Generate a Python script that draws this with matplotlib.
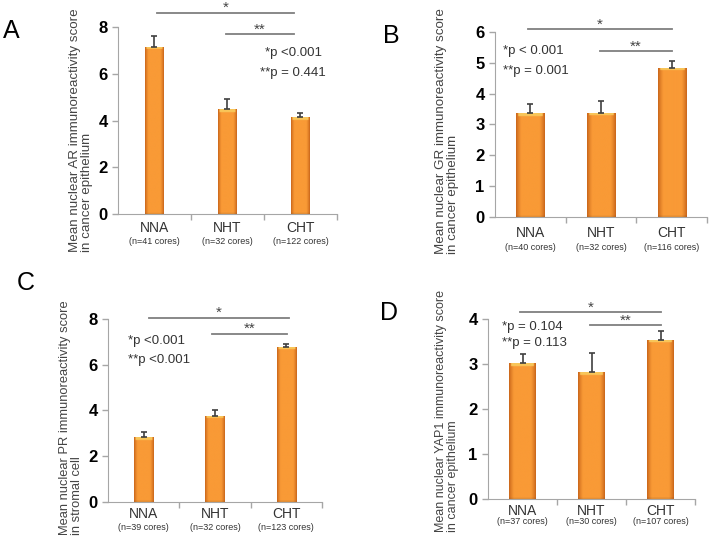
"""Mean nuclear immunoreactivity scores, four panels."""

import matplotlib
matplotlib.use("Agg")
import matplotlib.pyplot as plt
import numpy as np
from matplotlib.colors import to_rgb

plt.rcParams['font.family'] = ['Liberation Sans', 'DejaVu Sans']

groups = ['NNA', 'NHT', 'CHT']

a_cores = [41, 32, 122]
a_mean = [7.15, 4.49, 4.13]
a_err = [0.45, 0.41, 0.17]
a_pvals = ['*p <0.001', '**p = 0.441']

b_cores = [40, 32, 116]
b_mean = [3.36, 3.37, 4.84]
b_err = [0.29, 0.40, 0.22]
b_pvals = ['*p < 0.001', '**p = 0.001']

c_cores = [39, 32, 123]
c_mean = [2.83, 3.77, 6.78]
c_err = [0.22, 0.23, 0.12]
c_pvals = ['*p <0.001', '**p <0.001']

d_cores = [37, 30, 107]
d_mean = [3.02, 2.82, 3.54]
d_err = [0.20, 0.43, 0.19]
d_pvals = ['*p = 0.104', '**p = 0.113']

EDGE = np.array(to_rgb('#C9651A'))
MID = np.array(to_rgb('#F99A36'))
TOP = np.array(to_rgb('#F8C65A'))
AXCOL = '#A6A6A6'
LINECOL = '#7F7F7F'
TXT = '#333333'

fig = plt.figure(figsize=(7.09, 5.38), dpi=100)
FIG_H = 538


def gradient_bars(ax, vals, width, ytop):
    """bars with a beveled orange look"""
    bars = ax.bar(range(len(vals)), vals, width, color='#F7922A',
                  edgecolor='none', zorder=2)
    ax_h = ax.get_position().height * FIG_H
    px_unit = ax_h / ytop
    t = np.linspace(0, 1, 64)
    prof = np.clip(np.minimum(t, 1 - t) / 0.18, 0, 1) ** 0.8
    for bar, v in zip(bars, vals):
        nrow = 300
        img = np.zeros((nrow, 64, 3))
        for i in range(3):
            img[:, :, i] = EDGE[i] + (MID[i] - EDGE[i]) * prof
        band = max(int(round(nrow * 3.0 / (v * px_unit))), 1)
        img[:band, 5:-5, :] = TOP
        img[-max(band // 2, 1):, :, :] *= 0.92
        im = ax.imshow(img, extent=[bar.get_x(), bar.get_x() + width, 0, v],
                       aspect='auto', zorder=2, interpolation='bilinear')
        im.set_clip_path(bar)


def draw_panel(rect, letter, letter_xy, means, errs, cores, ytop, width,
               ylabel, ylab_xy, ylab_fs, pvals, p_xy, p_ha, p_dy, sig1, sig2,
               lab_off):
    ax = fig.add_axes(rect)
    gradient_bars(ax, means, width, ytop)
    ax.errorbar(range(3), means, yerr=[np.zeros(3), errs], fmt='none',
                ecolor='#3F3F3F', elinewidth=1.2, capsize=2.5, capthick=1.2,
                zorder=3)
    ax.set_xlim(-0.5, 2.5)
    ax.set_ylim(0, ytop)
    ax.set_yticks(np.arange(0, ytop + 0.1, 2 if ytop == 8 else 1))
    ax.set_xticks([0.5, 1.5, 2.5])
    ax.set_xticklabels([])
    for s in ['top', 'right']:
        ax.spines[s].set_visible(False)
    for s in ['left', 'bottom']:
        ax.spines[s].set_color(AXCOL)
    ax.tick_params(axis='both', colors=AXCOL, length=4, width=1,
                   labelcolor='black')
    for lab in ax.get_yticklabels():
        lab.set_fontweight('bold')
        lab.set_fontsize(12)

    for i, g in enumerate(groups):
        ax.annotate(g, (i, 0), xycoords=('data', 'axes fraction'),
                    xytext=(0, lab_off[0]), textcoords='offset points',
                    ha='center', va='center', fontsize=10, color=TXT)
        ax.annotate('(n=%d cores)' % cores[i], (i, 0),
                    xycoords=('data', 'axes fraction'),
                    xytext=(0, lab_off[1]), textcoords='offset points',
                    ha='center', va='center', fontsize=6.5, color=TXT)

    ax.text(ylab_xy[0], ylab_xy[1], ylabel, transform=ax.transAxes,
            rotation=90, ha='center', va='center', multialignment='left',
            fontsize=ylab_fs, color='#444444', linespacing=1.0)

    for x0, x1, y, star in [sig1 + ('*',), sig2 + ('**',)]:
        ax.plot([x0, x1], [y, y], color=LINECOL, lw=1.3, clip_on=False,
                zorder=4)
        ax.annotate(star, ((x0 + x1) / 2, y), xytext=(0, -1.5),
                    textcoords='offset points', ha='center', va='bottom',
                    fontsize=11, color='#444444', annotation_clip=False)

    ax.text(p_xy[0], p_xy[1], pvals[0], ha=p_ha, va='center', fontsize=9.5,
            color=TXT)
    ax.text(p_xy[0], p_xy[1] - p_dy, pvals[1], ha=p_ha, va='center',
            fontsize=9.5, color=TXT)

    fig.text(letter_xy[0] / 709, 1 - letter_xy[1] / FIG_H, letter,
             fontsize=18, ha='left', va='baseline')
    return ax


draw_panel([0.1664, 0.6022, 0.3089, 0.3476], 'A', (3, 38), a_mean, a_err,
           a_cores, 8, 0.26,
           'Mean nuclear AR immunoreactivity score\nin cancer epithelium',
           (-0.169, 0.45), 9.6, a_pvals, (1.90, 6.88), 'center', 0.85,
           (0.03, 1.91, 8.6), (0.98, 1.91, 7.68), (-10, -19.5))

draw_panel([0.6982, 0.5961, 0.2990, 0.3450], 'B', (383, 43), b_mean, b_err,
           b_cores, 6, 0.40,
           'Mean nuclear GR immunoreactivity score\nin cancer epithelium',
           (-0.226, 0.465), 9.6, b_pvals, (-0.39, 5.36), 'left', 0.62,
           (-0.03, 2.0, 6.08), (0.985, 2.0, 5.36), (-11.5, -21.5))

draw_panel([0.1523, 0.0664, 0.3018, 0.3413], 'C', (17, 290), c_mean, c_err,
           c_cores, 8, 0.27,
           'Mean nuclear PR immunoreactivity score\nin stromal cell',
           (-0.175, 0.462), 9.3, c_pvals, (-0.22, 7.02), 'left', 0.81,
           (0.075, 2.04, 8.05), (0.96, 2.01, 7.33), (-8.5, -18.5))

draw_panel([0.6883, 0.0725, 0.2920, 0.3346], 'D', (380, 320), d_mean, d_err,
           d_cores, 4, 0.39,
           'Mean nuclear YAP1 immunoreactivity score\nin cancer epithelium',
           (-0.20, 0.489), 9.0, d_pvals, (-0.30, 3.82), 'left', 0.35,
           (-0.036, 2.007, 4.15), (0.978, 2.007, 3.86), (-8.5, -16.5))

fig.savefig('out.png', dpi=100)
